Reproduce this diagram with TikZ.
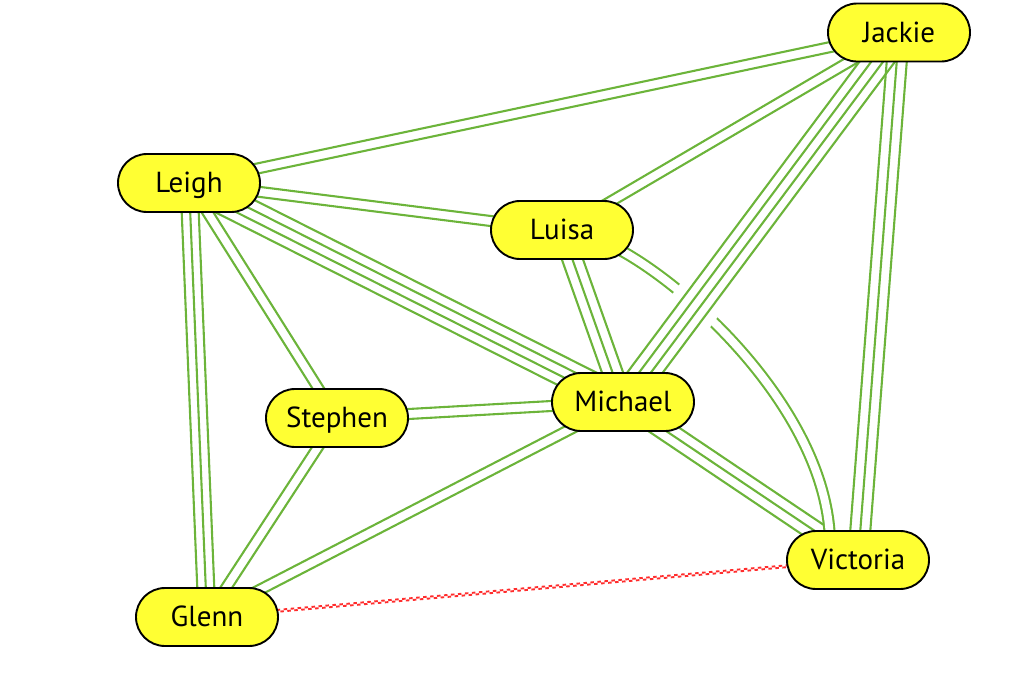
\documentclass[tikz,border=0pt]{standalone}
\usepackage{fontspec}
\setmainfont{PT Sans}
\usetikzlibrary{calc}
\pgfdeclarelayer{bg}
\pgfsetlayers{bg,main}
\definecolor{edgegreen}{RGB}{108,180,58}
\definecolor{nodeyellow}{RGB}{255,255,51}
\definecolor{linkred}{RGB}{255,45,45}
\tikzset{
  person/.style={draw=black, line width=1.9pt, fill=nodeyellow, rounded corners=29pt,
    minimum width=142pt, minimum height=58pt, inner sep=0pt,
    text height=20pt, text depth=1pt,
    font=\fontsize{29}{32}\selectfont},
  edge/.style={draw=edgegreen, line width=2.1pt},
  curvedge/.style={draw=edgegreen, line width=2.1pt, double=white, double distance=7.9pt},
  redlink/.style={draw=linkred, line width=1.9pt, dash pattern=on 3.5pt off 3.5pt},
  gapmask/.style={draw=white, line width=50pt},
}
\newcommand\bundle[3]{\foreach \o in {#3}{\draw[edge] ($(#1)!\o!90:(#2)$) -- ($(#2)!\o!-90:(#1)$);}}
\begin{document}
\begin{tikzpicture}[x=1pt,y=-1pt]
\useasboundingbox (0,0) rectangle (1024,675);
\node[person] (Jackie)   at (899,32.5) {Jackie};
\node[person] (Leigh)    at (189,183)  {Leigh};
\node[person] (Luisa)    at (562,230)  {Luisa};
\node[person] (Michael)  at (623,402)  {Michael};
\node[person] (Stephen)  at (337,418)  {Stephen};
\node[person] (Victoria) at (858,560)  {Victoria};
\node[person] (Glenn)    at (207,617)  {Glenn};
\begin{pgfonlayer}{bg}
  \bundle{Jackie}{Leigh}{-5pt,5pt}
  \bundle{Jackie}{Luisa}{-5pt,5pt}
  \bundle{Jackie}{Victoria}{-10pt,0pt,10pt}
  \bundle{Leigh}{Luisa}{-5pt,5pt}
  \bundle{Leigh}{Michael}{-14.25pt,-4.75pt,4.75pt,14.25pt}
  \bundle{Leigh}{Stephen}{-5pt,5pt}
  \bundle{Leigh}{Glenn}{-8.5pt,0pt,8.5pt}
  \bundle{Luisa}{Michael}{-10pt,0pt,10pt}
  \bundle{Michael}{Stephen}{-5pt,5pt}
  \bundle{Michael}{Glenn}{-5pt,5pt}
  \bundle{Michael}{Victoria}{-10pt,0pt,10pt}
  \bundle{Stephen}{Glenn}{-5pt,5pt}
  \draw[curvedge] ($(Luisa.center)+(58,20)$) .. controls (700,294) and (830,421) .. ($(Victoria.center)+(-28,-15)$);
  \begin{scope}
    \clip (703,307) circle (40);
    \draw[gapmask] (Jackie) -- (Michael);
  \end{scope}
  \bundle{Jackie}{Michael}{-14.25pt,-4.75pt,4.75pt,14.25pt}
  \draw[redlink] ($(Glenn)!0.95pt!90:(Victoria)$) -- ($(Victoria)!0.95pt!-90:(Glenn)$);
  \draw[redlink, dash phase=3.5pt] ($(Glenn)!-0.95pt!90:(Victoria)$) -- ($(Victoria)!-0.95pt!-90:(Glenn)$);
\end{pgfonlayer}
\end{tikzpicture}
\end{document}
